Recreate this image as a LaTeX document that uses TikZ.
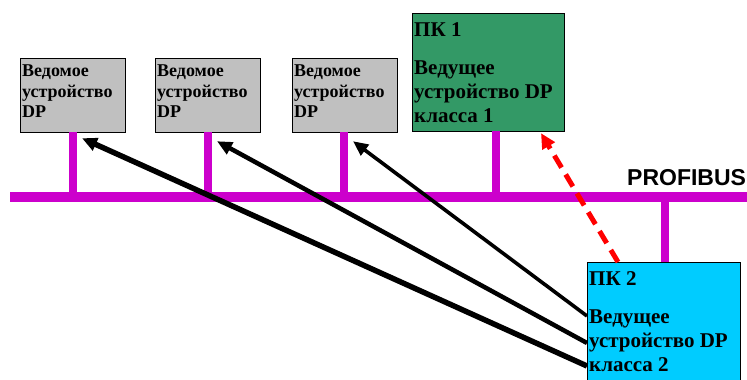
\documentclass[tikz,border=0pt]{standalone}
\usepackage{fontspec}
\setmainfont{Liberation Serif}
\newfontfamily\busfont{Liberation Sans}
\usetikzlibrary{arrows.meta,calc}

\definecolor{busmag}{HTML}{CC00CC}
\definecolor{slavegray}{HTML}{C0C0C0}
\definecolor{pcgreen}{HTML}{339966}
\definecolor{pccyan}{HTML}{00CCFF}
\definecolor{linkred}{HTML}{FF0000}

\tikzset{
  device/.style={draw=black, line width=1.2pt, anchor=north west, inner sep=0pt},
  slavebox/.style={device, fill=slavegray, minimum width=105pt, minimum height=74pt},
  label/.style={anchor=north west, inner sep=0pt, align=left, font=\bfseries\fontsize{18}{20.5}\selectfont},
  pclabel/.style={label, font=\bfseries\fontsize{21}{24}\selectfont},
  bus/.style={busmag, line width=10pt},
  stub/.style={busmag, line width=8pt},
  request/.style={black, -{Triangle[length=15pt,width=13pt]}},
  monitor/.style={linkred, line width=5pt, dash pattern=on 14pt off 8pt,
                  -{Triangle[length=15pt,width=14pt]}}
}

\begin{document}
\begin{tikzpicture}[x=1pt,y=-1pt]
\useasboundingbox (0,0) rectangle (747,380);
\clip (0,0) rectangle (747,380);

% bus line and its label
\coordinate (busL) at (10,197);
\coordinate (busR) at (750,197);
\draw[bus] (busL) -- (busR);
\node[anchor=base west, inner sep=0pt, font=\busfont\bfseries\fontsize{23}{23}\selectfont] (busname) at (627,185) {PROFIBUS};

% slave devices
\node[slavebox] (s1) at (20,58) {};
\node[slavebox] (s2) at (155,58) {};
\node[slavebox] (s3) at (292,58) {};
\foreach \s in {s1,s2,s3}{
  \node[label] (\s t) at ($(\s.north west)+(2,7)$) {Ведомое\\устройство\\DP};
}

% class 1 master
\node[device, fill=pcgreen, minimum width=152pt, minimum height=118pt] (pc1) at (412,13) {};
\node[pclabel] (pc1t) at ($(pc1.north west)+(2,9)$) {ПК 1\\[14pt]Ведущее\\устройство DP\\класса 1};

% class 2 master
\node[device, fill=pccyan, minimum width=153pt, minimum height=140pt] (pc2) at (587,262) {};
\node[pclabel] (pc2t) at ($(pc2.north west)+(2,9)$) {ПК 2\\[14pt]Ведущее\\устройство DP\\класса 2};

% drops to the bus
\foreach \s/\x in {s1/73,s2/208,s3/344}{
  \draw[stub] (\x,132) -- (\x,197);
}
\draw[stub] (496,131) -- (496,197);
\draw[stub] (665,197) -- (665,262);

% cyclic data exchange from the class 2 master
\coordinate (a1) at ($(pc2.north west)+(0,104)$);
\coordinate (a2) at ($(pc2.north west)+(0,81)$);
\coordinate (a3) at ($(pc2.north west)+(0,54)$);
\coordinate (t1) at ($(s1.south west)+(62,5)$);
\coordinate (t2) at ($(s2.south west)+(62,8)$);
\coordinate (t3) at ($(s3.south west)+(61,8)$);
\draw[request, line width=5.5pt] (a1) -- (t1);
\draw[request, line width=4.5pt] (a2) -- (t2);
\draw[request, line width=3.6pt] (a3) -- (t3);

% link between the two masters
\coordinate (m2) at ($(pc2.north west)+(31,0)$);
\coordinate (m1) at ($(pc1.south west)+(129,1)$);
\draw[monitor] (m2) -- (m1);
\end{tikzpicture}
\end{document}
